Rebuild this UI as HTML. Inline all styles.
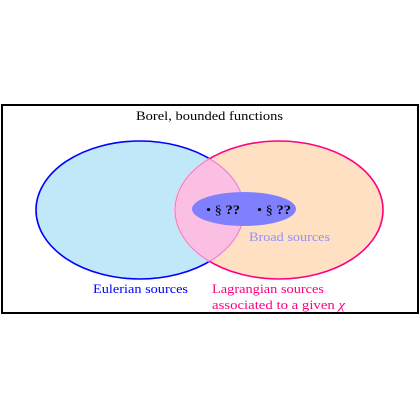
<!DOCTYPE html>
<html><head><meta charset="utf-8"><style>
html,body{margin:0;padding:0;background:#fff;}
svg{display:block;font-family:"Liberation Serif",serif;}
</style></head><body>
<svg width="420" height="420" viewBox="0 0 420 420">
<defs>
<clipPath id="cl"><ellipse cx="140" cy="210" rx="104" ry="69"/></clipPath>
<clipPath id="cr"><ellipse cx="279" cy="210" rx="104" ry="69"/></clipPath>
</defs>
<rect x="2" y="105" width="416" height="208" fill="none" stroke="#000" stroke-width="2"/>
<text x="136" y="120" font-size="12.5" textLength="147" lengthAdjust="spacingAndGlyphs">Borel, bounded functions</text>
<ellipse cx="140" cy="210" rx="104" ry="69" fill="#c0e8f8"/>
<ellipse cx="279" cy="210" rx="104" ry="69" fill="#ffe0c2"/>
<ellipse cx="279" cy="210" rx="104" ry="69" fill="#fbbfe4" clip-path="url(#cl)"/>
<ellipse cx="140" cy="210" rx="104" ry="69" fill="none" stroke="#0000ff" stroke-width="1.6"/>
<ellipse cx="140" cy="210" rx="104" ry="69" fill="none" stroke="#fbbfe4" stroke-width="2.2" clip-path="url(#cr)"/>
<ellipse cx="140" cy="210" rx="104" ry="69" fill="none" stroke="#e060b0" stroke-width="0.6" clip-path="url(#cr)"/>
<ellipse cx="279" cy="210" rx="104" ry="69" fill="none" stroke="#ff0080" stroke-width="1.6"/>
<ellipse cx="279" cy="210" rx="104" ry="69" fill="none" stroke="#fbbfe4" stroke-width="2.2" clip-path="url(#cl)"/>
<ellipse cx="279" cy="210" rx="104" ry="69" fill="none" stroke="#e060b0" stroke-width="0.6" clip-path="url(#cl)"/>
<ellipse cx="244" cy="209" rx="52" ry="17" fill="#8080ff"/>
<text x="206" y="214" font-size="13" textLength="34" lengthAdjust="spacingAndGlyphs">• § <tspan font-weight="bold">??</tspan></text>
<text x="257" y="214" font-size="13" textLength="34" lengthAdjust="spacingAndGlyphs">• § <tspan font-weight="bold">??</tspan></text>
<text x="249" y="241" font-size="12.5" fill="#9090ff" textLength="81" lengthAdjust="spacingAndGlyphs">Broad sources</text>
<text x="93" y="293" font-size="12.5" fill="#0000ff" textLength="95" lengthAdjust="spacingAndGlyphs">Eulerian sources</text>
<text x="212" y="293" font-size="12.5" fill="#ff0080" textLength="112" lengthAdjust="spacingAndGlyphs">Lagrangian sources</text>
<text x="212" y="309" font-size="12.5" fill="#ff0080" textLength="133" lengthAdjust="spacingAndGlyphs">associated to a given <tspan font-style="italic">χ</tspan></text>
</svg>
</body></html>
